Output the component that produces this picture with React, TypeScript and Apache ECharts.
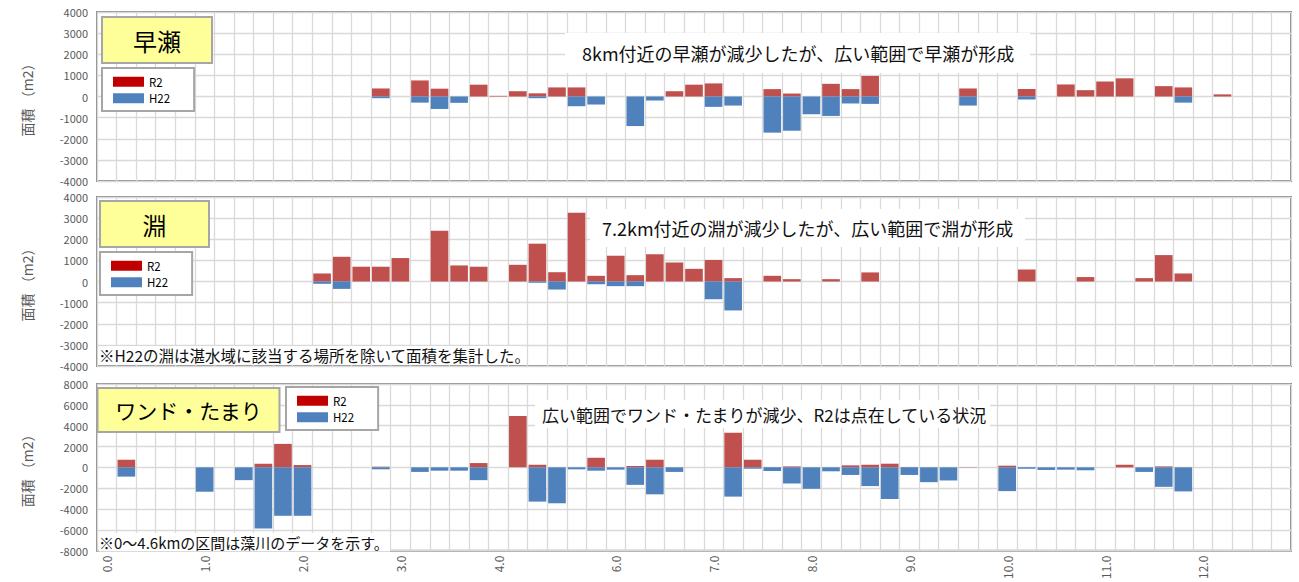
import React, { useEffect, useRef } from "react";
import * as echarts from "echarts";

const _ = null;

// Distance (km) categories: 0.0–4.6 (藻川), then 5.6–12.8
const kmCategories = [
  "0.0", "0.2", "0.4", "0.6", "0.8", "1.0", "1.2", "1.4", "1.6", "1.8",
  "2.0", "2.2", "2.4", "2.6", "2.8", "3.0", "3.2", "3.4", "3.6", "3.8",
  "4.0", "4.2", "4.4", "4.6", "5.6", "5.8", "6.0", "6.2", "6.4", "6.6",
  "6.8", "7.0", "7.2", "7.4", "7.6", "7.8", "8.0", "8.2", "8.4", "8.6",
  "8.8", "9.0", "9.2", "9.4", "9.6", "9.8", "10.0", "10.2", "10.4", "10.6",
  "10.8", "11.0", "11.2", "11.4", "11.6", "11.8", "12.0", "12.2", "12.4", "12.6",
  "12.8",
];

// 早瀬
const hayaseR2 = [
  _, _, _, _, _, _, _, _, _, _,
  _, _, _, _, 380, _, 760, 370, _, 560,
  30, 250, 150, 430, 430, _, _, _, _, 250,
  560, 620, _, _, 350, 140, _, 600, 350, 970,
  _, _, _, _, 380, _, _, 350, _, 570,
  300, 710, 860, _, 490, 430, _, 100, _, _,
  _,
];
const hayaseH22 = [
  _, _, _, _, _, _, _, _, _, _,
  _, _, _, _, -80, _, -290, -590, -300, _,
  _, _, -80, _, -460, -380, _, -1400, -190, _,
  _, -490, -430, _, -1710, -1620, -840, -920, -330, -350,
  _, _, _, _, -430, _, _, -140, _, _,
  _, _, _, _, _, -290, _, _, _, _,
  _,
];

// 淵
const fuchiR2 = [
  _, _, _, _, _, _, _, _, _, _,
  _, 380, 1170, 700, 700, 1110, _, 2400, 760, 700,
  _, 790, 1790, 440, 3250, 270, 1220, 300, 1290, 900,
  600, 1020, 160, _, 270, 110, _, 110, _, 430,
  _, _, _, _, _, _, _, 570, _, _,
  210, _, _, 160, 1250, 380, _, _, _, _,
  _,
];
const fuchiH22 = [
  _, _, _, _, _, _, _, _, _, _,
  _, -110, -350, _, _, _, _, _, _, _,
  _, _, -60, -380, _, -130, -220, -220, _, _,
  _, -840, -1370, _, _, _, _, _, _, _,
  _, _, _, _, _, _, _, _, _, _,
  _, _, _, _, _, _, _, _, _, _,
  _,
];

// ワンド・たまり
const wandoR2 = [
  _, 730, _, _, _, _, _, _, 350, 2250,
  220, _, _, _, 60, _, _, _, _, 410,
  _, 4930, 250, _, _, 920, _, 130, 730, _,
  _, _, 3320, 730, 30, 90, _, _, 190, 250,
  350, 30, _, _, 30, _, 160, _, _, _,
  _, _, 250, _, 90, _, _, _, _, _,
  _,
];
const wandoH22 = [
  _, -890, _, _, _, -2340, _, -1230, -5880, -4650,
  -4650, _, _, _, -190, _, -440, -320, -320, -1230,
  _, _, -3290, -3450, -190, -320, -220, -1680, -2590, -440,
  _, _, -2810, -130, -350, -1550, -2060, -380, -730, -1800,
  -3040, -730, -1420, -1260, _, _, -2280, -130, -250, -220,
  -280, _, _, -440, -1870, -2310, _, _, _, _,
  _,
];

const panelTitles = ["早瀬", "淵", "ワンド・たまり"];
const yMins = [-4000, -4000, -8000];
const yMaxs = [4000, 4000, 8000];
const yIntervals = [1000, 1000, 2000];
const r2Series = [hayaseR2, fuchiR2, wandoR2];
const h22Series = [hayaseH22, fuchiH22, wandoH22];
const comments = [
  "8km付近の早瀬が減少したが、広い範囲で早瀬が形成",
  "7.2km付近の淵が減少したが、広い範囲で淵が形成",
  "広い範囲でワンド・たまりが減少、R2は点在している状況",
];
const notes = ["", "※H22の淵は湛水域に該当する場所を除いて面積を集計した。", "※0〜4.6kmの区間は藻川のデータを示す。"];

const FONT = "'Noto Sans CJK JP', 'Noto Sans', sans-serif";
const R2_COLOR = "#c0504d";
const R2_LEGEND = "#c00000";
const H22_COLOR = "#4f81bd";
const GRID_LINE = "#d9d9d9";
const AXIS_TEXT = "#595959";

const gridTops = [12, 197, 384];
const gridHeight = 169;
const gridLeft = 97;
const gridWidth = 1194;

const titleBoxes = [
  { x: 102, y: 17, w: 110, h: 46, fs: 24 },
  { x: 100, y: 201, w: 109, h: 46, fs: 24 },
  { x: 97.5, y: 388, w: 182, h: 44, fs: 21 },
];
const legendPos = [
  { left: 102, top: 68 },
  { left: 100, top: 252 },
  { left: 286, top: 387 },
];
const commentBoxes = [
  { x: 565, y: 33, w: 465, h: 40, tx: 582, ty: 53, fs: 18 },
  { x: 590, y: 209, w: 435, h: 38, tx: 602, ty: 228, fs: 18 },
  { x: 535, y: 400, w: 455, h: 28, tx: 542, ty: 414, fs: 17 },
];
const noteBoxes = [
  null,
  { x: 99, y: 346, w: 423, h: 18.5, tx: 99, ty: 355, fs: 15.5 },
  { x: 99, y: 533, w: 291, h: 18.5, tx: 99, ty: 542, fs: 15 },
];

function buildOption() {
  const grids = gridTops.map((top) => ({
    left: gridLeft,
    top,
    width: gridWidth,
    height: gridHeight,
    show: true,
    borderColor: "#8c8c8c",
    borderWidth: 2,
    backgroundColor: "#fff",
  }));

  const xAxes = gridTops.map((_t, i) => ({
    type: "category",
    gridIndex: i,
    data: kmCategories,
    boundaryGap: true,
    axisLine: { show: false },
    axisTick: { show: false },
    splitLine: { show: true, interval: 0, lineStyle: { color: GRID_LINE, width: 1.3 } },
    axisLabel: {
      show: i === 2,
      interval: (_idx: number, value: string) => value.endsWith(".0"),
      rotate: 90,
      margin: 5,
      color: AXIS_TEXT,
      fontSize: 12,
      fontFamily: FONT,
    },
  }));

  const yAxes = gridTops.map((_t, i) => ({
    type: "value",
    gridIndex: i,
    min: yMins[i],
    max: yMaxs[i],
    interval: yIntervals[i],
    name: "面積 （m2）",
    nameLocation: "middle",
    nameGap: 63,
    nameTextStyle: { color: AXIS_TEXT, fontSize: 14, fontFamily: FONT },
    axisLine: { show: false },
    axisTick: { show: false },
    splitLine: { show: true, lineStyle: { color: GRID_LINE, width: 1.3 } },
    axisLabel: {
      color: AXIS_TEXT,
      fontSize: 11,
      margin: 9,
      fontFamily: FONT,
      formatter: (v: number) => String(v),
    },
  }));

  const series: any[] = [];
  for (let i = 0; i < 3; i++) {
    series.push({
      type: "bar",
      name: "R2",
      xAxisIndex: i,
      yAxisIndex: i,
      data: r2Series[i],
      barCategoryGap: "10%",
      barGap: "-100%",
      itemStyle: { color: R2_COLOR },
      z: 2,
    });
    series.push({
      type: "bar",
      name: "H22",
      xAxisIndex: i,
      yAxisIndex: i,
      data: h22Series[i],
      barCategoryGap: "10%",
      barGap: "-100%",
      itemStyle: { color: H22_COLOR },
      z: 2,
    });
  }

  const legends = legendPos.map((p) => ({
    orient: "vertical",
    left: p.left,
    top: p.top,
    icon: "rect",
    itemWidth: 31,
    itemHeight: 10,
    itemGap: 5,
    padding: [8, 24, 7, 11],
    backgroundColor: "#fff",
    borderColor: "#a6a6a6",
    borderWidth: 2,
    selectedMode: false,
    textStyle: { color: "#000", fontSize: 11.5, fontFamily: FONT },
    data: [
      { name: "R2", itemStyle: { color: R2_LEGEND } },
      { name: "H22", itemStyle: { color: H22_COLOR } },
    ],
  }));

  const graphics: any[] = [];
  titleBoxes.forEach((b, i) => {
    graphics.push({
      type: "rect",
      z: 20,
      shape: { x: b.x, y: b.y, width: b.w, height: b.h },
      style: { fill: "#ffff99", stroke: "#a6a6a6", lineWidth: 2 },
    });
    graphics.push({
      type: "text",
      z: 21,
      x: b.x + b.w / 2,
      y: b.y + b.h / 2,
      style: {
        text: panelTitles[i],
        fill: "#000",
        fontSize: b.fs,
        fontFamily: FONT,
        align: "center",
        verticalAlign: "middle",
      },
    });
  });
  commentBoxes.forEach((b, i) => {
    graphics.push({
      type: "rect",
      z: 20,
      shape: { x: b.x, y: b.y, width: b.w, height: b.h },
      style: { fill: "#fff" },
    });
    graphics.push({
      type: "text",
      z: 21,
      x: b.tx,
      y: b.ty,
      style: {
        text: comments[i],
        fill: "#111",
        fontSize: b.fs,
        fontFamily: FONT,
        align: "left",
        verticalAlign: "middle",
      },
    });
  });
  noteBoxes.forEach((b, i) => {
    if (!b) return;
    graphics.push({
      type: "rect",
      z: 20,
      shape: { x: b.x, y: b.y, width: b.w, height: b.h },
      style: { fill: "#fff" },
    });
    graphics.push({
      type: "text",
      z: 21,
      x: b.tx,
      y: b.ty,
      style: {
        text: notes[i],
        fill: "#111",
        fontSize: b.fs,
        fontFamily: FONT,
        align: "left",
        verticalAlign: "middle",
      },
    });
  });

  return {
    animation: false,
    backgroundColor: "#fff",
    textStyle: { fontFamily: FONT },
    grid: grids,
    xAxis: xAxes,
    yAxis: yAxes,
    legend: legends,
    series,
    graphic: graphics,
  };
}

export default function App() {
  const ref = useRef<HTMLDivElement>(null);
  useEffect(() => {
    document.body.style.margin = "0";
    const chart = echarts.init(ref.current as HTMLDivElement, null, { renderer: "svg" });
    chart.setOption(buildOption() as any);
    return () => {
      chart.dispose();
    };
  }, []);
  return <div ref={ref} style={{ width: 1299, height: 582 }} />;
}
